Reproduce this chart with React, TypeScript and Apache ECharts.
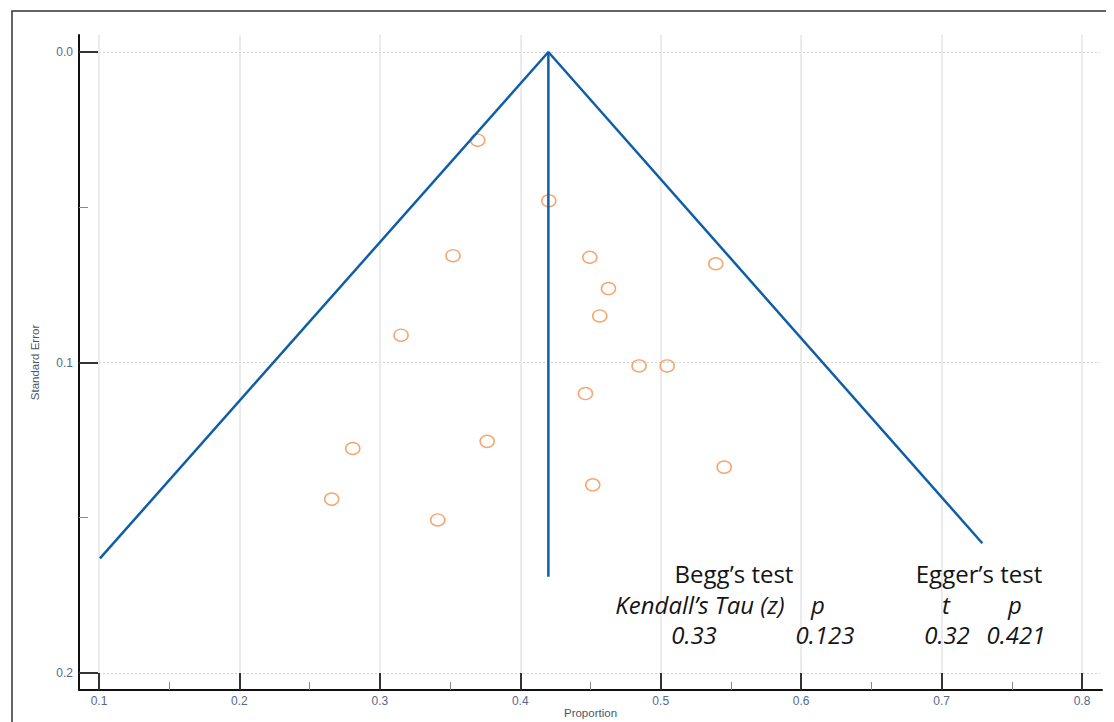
import React, { useEffect, useRef } from "react";
import * as echarts from "echarts";

// ---- data ----
const proportion = [
  0.3697, 0.4203, 0.3521, 0.4495, 0.5392, 0.4628, 0.4566, 0.3151, 0.4846,
  0.5046, 0.4464, 0.3764, 0.2807, 0.5452, 0.4516, 0.2657, 0.3412,
];
const standardError = [
  0.0284, 0.0479, 0.0656, 0.0661, 0.0682, 0.0762, 0.085, 0.0912, 0.1011,
  0.1011, 0.11, 0.1254, 0.1277, 0.1337, 0.1394, 0.144, 0.1507,
];
const pooledEstimate = 0.42;
const funnelX = [0.1007, pooledEstimate, 0.729];
const funnelSE = [0.1631, 0, 0.1582];
const centerLineSE = [0, 0.169];

const xAxisRange = [0.1, 0.8];
const yAxisRange = [0, 0.2];
const tickStep = 0.1;

const beggTitle = "Begg’s test";
const eggerTitle = "Egger’s test";
const beggHeaders = ["Kendall’s Tau (z)", "p"];
const eggerHeaders = ["t", "p"];
const beggValues = ["0.33", "0.123"];
const eggerValues = ["0.32", "0.421"];

const LABEL_COLOR = "#56688a";
const FUNNEL_COLOR = "#0f5ea8";
const POINT_COLOR = "#f7a46e";

// page offset (body margin)
const M = 8;

export default function App() {
  const ref = useRef<HTMLDivElement>(null);

  useEffect(() => {
    if (!ref.current) return;
    const chart = echarts.init(ref.current, undefined, { renderer: "svg" });

    const scatterData = proportion.map((p, i) => [p, standardError[i]]);
    const funnelData = funnelX.map((x, i) => [x, funnelSE[i]]);
    const centerData = centerLineSE.map((se) => [pooledEstimate, se]);

    const textStyleBig = {
      fontFamily: "'Open Sans', 'Liberation Sans', sans-serif",
      fontSize: 24,
      fill: "#151515",
      align: "center",
      verticalAlign: "middle",
    };
    const mkText = (x: number, y: number, text: string, italic = false) => ({
      type: "text",
      x: x - M,
      y: y - M,
      style: { ...textStyleBig, text, fontStyle: italic ? "italic" : "normal" },
      z: 10,
    });

    const gridBase = { outerBoundsMode: "none", containLabel: false };
    const labelFont = "'Liberation Sans', Arial, sans-serif";

    const option: any = {
      animation: false,
      backgroundColor: "#ffffff",
      grid: [
        { ...gridBase, left: 99 - M, top: 52 - M, width: 983, height: 621 }, // data grid
        { ...gridBase, left: 79 - M, top: 35 - M, width: 1023, height: 655 }, // axis lines
        { ...gridBase, left: 99 - M, top: 52 - M, width: 1001, height: 621 }, // horizontal grid lines
        { ...gridBase, left: 99 - M, top: 35 - M, width: 983, height: 638 }, // vertical grid lines
      ],
      xAxis: [
        {
          gridIndex: 0,
          type: "value",
          position: "bottom",
          min: xAxisRange[0],
          max: xAxisRange[1],
          interval: tickStep,
          offset: 17,
          axisLine: { show: false, onZero: false },
          axisTick: { show: true, inside: true, length: 17, lineStyle: { color: "#333", width: 2 } },
          minorTick: { show: true, splitNumber: 2, length: 8, lineStyle: { color: "#888", width: 1 } },
          axisLabel: {
            margin: 5,
            color: LABEL_COLOR,
            fontSize: 12,
            fontFamily: labelFont,
            formatter: (v: number) => v.toFixed(1),
          },
          splitLine: { show: false },
          name: "Proportion",
          nameLocation: "middle",
          nameGap: 17,
          nameMoveOverlap: false,
          nameTextStyle: { color: "#4a5568", fontSize: 11.5, fontFamily: labelFont },
        },
        {
          gridIndex: 1,
          type: "value",
          position: "bottom",
          min: 0,
          max: 1,
          axisLine: { show: true, onZero: false, lineStyle: { color: "#111", width: 2 } },
          axisTick: { show: false },
          axisLabel: { show: false },
          splitLine: { show: false },
        },
        {
          gridIndex: 2,
          type: "value",
          min: 0,
          max: 1,
          show: false,
        },
        {
          gridIndex: 3,
          type: "value",
          min: xAxisRange[0],
          max: xAxisRange[1],
          interval: tickStep,
          axisLine: { show: false, onZero: false },
          axisTick: { show: false },
          axisLabel: { show: false },
          splitLine: { show: true, lineStyle: { color: "#e4e4e4", width: 1.5 } },
        },
      ],
      yAxis: [
        {
          gridIndex: 0,
          type: "value",
          position: "left",
          inverse: true,
          min: yAxisRange[0],
          max: yAxisRange[1],
          interval: tickStep,
          offset: 20,
          axisLine: { show: false, onZero: false },
          axisTick: { show: true, inside: true, length: 19, lineStyle: { color: "#333", width: 2 } },
          minorTick: { show: true, splitNumber: 2, length: 9, lineStyle: { color: "#888", width: 1 } },
          axisLabel: {
            margin: 6,
            color: LABEL_COLOR,
            fontSize: 12,
            fontFamily: labelFont,
            formatter: (v: number) => v.toFixed(1),
          },
          splitLine: { show: false },
          name: "Standard Error",
          nameLocation: "middle",
          nameGap: 38,
          nameTextStyle: { color: "#4a5568", fontSize: 11.5, fontFamily: labelFont },
        },
        {
          gridIndex: 1,
          type: "value",
          position: "left",
          min: 0,
          max: 1,
          axisLine: { show: true, onZero: false, lineStyle: { color: "#111", width: 2 } },
          axisTick: { show: false },
          axisLabel: { show: false },
          splitLine: { show: false },
        },
        {
          gridIndex: 2,
          type: "value",
          inverse: true,
          min: yAxisRange[0],
          max: yAxisRange[1],
          interval: tickStep,
          axisLine: { show: false, onZero: false },
          axisTick: { show: false },
          axisLabel: { show: false },
          splitLine: { show: true, lineStyle: { color: "#d4d4d4", width: 1, type: [2, 2] } },
        },
        {
          gridIndex: 3,
          type: "value",
          min: 0,
          max: 1,
          show: false,
        },
      ],
      series: [
        {
          type: "scatter",
          xAxisIndex: 0,
          yAxisIndex: 0,
          data: scatterData,
          symbol: "circle",
          symbolSize: [14, 12],
          itemStyle: { color: "rgba(255,255,255,0)", borderColor: POINT_COLOR, borderWidth: 1.5, opacity: 1 },
          z: 3,
        },
        {
          type: "line",
          xAxisIndex: 0,
          yAxisIndex: 0,
          data: funnelData,
          symbol: "none",
          lineStyle: { color: FUNNEL_COLOR, width: 2.5 },
          z: 4,
        },
        {
          type: "line",
          xAxisIndex: 0,
          yAxisIndex: 0,
          data: centerData,
          symbol: "none",
          lineStyle: { color: FUNNEL_COLOR, width: 2.5 },
          z: 4,
        },
      ],
      graphic: [
        {
          type: "rect",
          shape: { x: 12 - M, y: 11 - M, width: 1200, height: 800 },
          style: { fill: "none", stroke: "#333", lineWidth: 1.5 },
          z: 0,
          silent: true,
        },
        mkText(734, 573, beggTitle),
        mkText(979, 573, eggerTitle),
        mkText(700, 604, beggHeaders[0], true),
        mkText(818, 604, beggHeaders[1], true),
        mkText(946, 604, eggerHeaders[0], true),
        mkText(1015, 604, eggerHeaders[1], true),
        mkText(694, 634, beggValues[0], true),
        mkText(825, 634, beggValues[1], true),
        mkText(947, 634, eggerValues[0], true),
        mkText(1016, 634, eggerValues[1], true),
      ],
    };

    chart.setOption(option);
    return () => chart.dispose();
  }, []);

  return <div ref={ref} style={{ width: 1098, height: 714 }} />;
}
